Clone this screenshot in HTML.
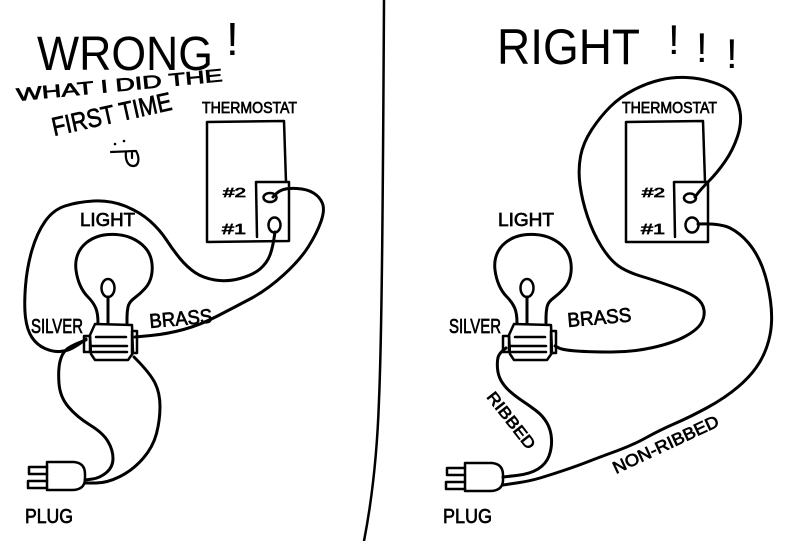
<!DOCTYPE html>
<html><head><meta charset="utf-8">
<style>
html,body{margin:0;padding:0;background:#fff;}
svg{display:block;}
text{font-family:"Liberation Sans",sans-serif;fill:#000;}
.sm{stroke:#000;stroke-width:0.7;}
</style></head><body>
<svg id="d" width="800" height="541" viewBox="0 0 800 541" xmlns="http://www.w3.org/2000/svg">
<rect width="800" height="541" fill="#fff"/>
<g fill="none" stroke="#000" stroke-width="3" stroke-linecap="round" stroke-linejoin="round">
  <!-- divider -->
  <path d="M384,0 C383,180 382,330 379,400 C377,460 371,505 364,541" stroke-width="2.5"/>

  <!-- LEFT thermostat -->
  <path d="M207,122 L284,121 L286,182 L256,182 L257,237 M286,182 L289,182 L289,241 L207,242 L207,122" stroke-width="2.5"/>
  <ellipse cx="270" cy="197.5" rx="6.5" ry="4.5" stroke-width="2.5"/>
  <ellipse cx="274.5" cy="225" rx="6" ry="7.5" stroke-width="2.5"/>

  <!-- RIGHT thermostat -->
  <path d="M626,122 L703,121 L705,182 L674,182 L675,237 M705,182 L708,182 L708,242 L626,242 L626,122" stroke-width="2.5"/>
  <ellipse cx="690" cy="198" rx="6" ry="4.5" stroke-width="2.5"/>
  <ellipse cx="692" cy="225" rx="6.5" ry="7.5" stroke-width="2.5"/>

  <!-- LEFT wires -->
  <polyline class="s" points="275,232 273,247 267,263 253,275 227,282 203,278 187,267 173,250 160,230 140,212 110,200 77,202 53,210 37,233 27,267 24,305 27,330 37,345 53,352 67,351 78,345 86,339"/>
  <polyline class="s" points="273,197 277,192 287,188 307,189 320,197 325,210 317,233 300,260 267,290 233,308 200,325 167,334 135,337"/>
  <polyline class="s" points="86,340 72,345 62,353 58,370 60,397 77,417 103,433 113,450 113,467 100,478 85,480"/>
  <polyline class="s" points="134,357 150,373 160,393 160,420 153,447 133,470 107,483 85,483"/>

  <!-- RIGHT wires -->
  <polyline class="s" points="695,197 700,190 717,173 733,150 742,123 738,100 727,87 700,78 673,77 647,83 620,97 600,117 583,143 578,170 582,200 593,233 610,260 627,272 657,281 690,293 703,303 705,317 697,330 673,343 633,352 590,352 563,350 555,346"/>
  <polyline class="s" points="698,224 720,223 740,233 757,253 768,282 773,320 767,350 752,375 725,398 690,417 660,430 633,445 600,457 577,466 550,475 530,481 503,485"/>
  <polyline class="s" points="506,348 499,353 497,362 498,375 504,386 515,396 530,406 543,416 551,430 552,448 546,464 530,474 503,477"/>

  <!-- bulbs + sockets -->
  <g id="bulb">
    <polyline class="s" points="98,323 98,313 93,302 83,292 77,278 75,262 80,248 92,238 107,234 125,235 140,242 150,253 153,268 150,283 140,294 129,302 127,312 127,323"/>
    <ellipse cx="108" cy="288" rx="6.5" ry="9" stroke-width="2.5"/>
    <path d="M108,297 L108,323"/>
    <path d="M95,324 L132,325 L133,353 L128,360 L95,360 L91,354 L90,335 Z" stroke-width="2.5"/>
    <path d="M96,337 L126,337 M91,346 L127,346 M93,352 L127,352" stroke-width="2.5"/>
    <rect x="84" y="336" width="6" height="16" stroke-width="2.5"/>
    <rect x="132" y="331" width="5" height="22" stroke-width="2.5"/>
  </g>
  <g transform="translate(419,0)">
    <polyline class="s" points="98,323 98,313 93,302 83,292 77,278 75,262 80,248 92,238 107,234 125,235 140,242 150,253 153,268 150,283 140,294 129,302 127,312 127,323"/>
    <ellipse cx="108" cy="288" rx="6.5" ry="9" stroke-width="2.5"/>
    <path d="M108,297 L108,323"/>
    <path d="M95,324 L132,325 L133,353 L128,360 L95,360 L91,354 L90,335 Z" stroke-width="2.5"/>
    <path d="M96,337 L126,337 M91,346 L127,346 M93,352 L127,352" stroke-width="2.5"/>
    <rect x="84" y="336" width="6" height="16" stroke-width="2.5"/>
    <rect x="132" y="331" width="5" height="22" stroke-width="2.5"/>
  </g>

  <!-- plugs -->
  <g stroke-width="2.5">
    <path d="M47,462 L74,462 Q85,463 85,474 L85,480 Q84,490 72,490 L47,490 Z"/>
    <path d="M47,467 L29,467 L29,474 L47,474 M47,481 L28,481 L28,488 L47,488"/>
  </g>
  <g stroke-width="2.5" transform="translate(418,1)">
    <path d="M47,462 L74,462 Q85,463 85,474 L85,480 Q84,490 72,490 L47,490 Z"/>
    <path d="M47,467 L29,467 L29,474 L47,474 M47,481 L28,481 L28,488 L47,488"/>
  </g>

  <!-- smiley -->
  <g stroke-width="2.2">
    <path d="M111,152 L135,151"/>
    <path d="M126,152 C125,160 128,166 133,166 C139,166 140,158 136,151"/>
    <path d="M132,153 L132,158"/>
  </g>
  <circle cx="115" cy="144" r="1.3" fill="#000" stroke="none"/>
  <circle cx="124" cy="141" r="1.3" fill="#000" stroke="none"/>
</g>

<!-- LEFT text -->
<text x="37" y="70" font-size="48" textLength="176" lengthAdjust="spacingAndGlyphs">WRONG</text>
<text x="226" y="55" font-size="46">!</text>
<text class="sm" transform="translate(17,101) rotate(-5.5)" font-size="18" textLength="207" lengthAdjust="spacingAndGlyphs">WHAT I DID THE</text>
<text class="sm" transform="translate(54,136) rotate(-12.5)" font-size="26" textLength="122" lengthAdjust="spacingAndGlyphs">FIRST TIME</text>
<text class="sm" x="202" y="113" font-size="16" textLength="95" lengthAdjust="spacingAndGlyphs">THERMOSTAT</text>
<text class="sm" x="223" y="197" font-size="13" textLength="23" lengthAdjust="spacingAndGlyphs">#2</text>
<text class="sm" x="222" y="234" font-size="15" textLength="24" lengthAdjust="spacingAndGlyphs">#1</text>
<text class="sm" x="80" y="226" font-size="18" textLength="55" lengthAdjust="spacingAndGlyphs">LIGHT</text>
<text class="sm" x="31" y="333" font-size="20" textLength="52" lengthAdjust="spacingAndGlyphs">SILVER</text>
<text class="sm" transform="translate(150,328) rotate(-5)" font-size="20" textLength="63" lengthAdjust="spacingAndGlyphs">BRASS</text>
<text class="sm" x="25" y="523" font-size="20" textLength="48" lengthAdjust="spacingAndGlyphs">PLUG</text>

<!-- RIGHT text -->
<text x="497" y="64" font-size="50" textLength="143" lengthAdjust="spacingAndGlyphs">RIGHT</text>
<text x="668" y="54" font-size="42">!</text>
<text x="696" y="62" font-size="42">!</text>
<text x="726" y="68" font-size="42">!</text>
<text class="sm" x="622" y="113" font-size="16" textLength="95" lengthAdjust="spacingAndGlyphs">THERMOSTAT</text>
<text class="sm" x="642" y="197" font-size="13" textLength="23" lengthAdjust="spacingAndGlyphs">#2</text>
<text class="sm" x="641" y="234" font-size="15" textLength="24" lengthAdjust="spacingAndGlyphs">#1</text>
<text class="sm" x="498" y="226" font-size="18" textLength="56" lengthAdjust="spacingAndGlyphs">LIGHT</text>
<text class="sm" x="449" y="333" font-size="20" textLength="52" lengthAdjust="spacingAndGlyphs">SILVER</text>
<text class="sm" transform="translate(568,327) rotate(-5)" font-size="20" textLength="64" lengthAdjust="spacingAndGlyphs">BRASS</text>
<text class="sm" x="443" y="523" font-size="20" textLength="49" lengthAdjust="spacingAndGlyphs">PLUG</text>
<text class="sm" transform="translate(486,397) rotate(52)" font-size="16" textLength="68" lengthAdjust="spacingAndGlyphs">RIBBED</text>
<text class="sm" transform="translate(616,474) rotate(-25)" font-size="17" textLength="115" lengthAdjust="spacingAndGlyphs">NON-RIBBED</text>
</svg>
<script>
(function(){
  var NS="http://www.w3.org/2000/svg";
  var pls=document.querySelectorAll('polyline.s');
  for(var k=0;k<pls.length;k++){
    var pl=pls[k];
    var pts=pl.getAttribute('points').trim().split(/\s+/).map(function(p){return p.split(',').map(Number);});
    if(pts.length<3) continue;
    var d='M'+pts[0][0]+','+pts[0][1];
    for(var i=1;i<pts.length-1;i++){
      var mx=(pts[i][0]+pts[i+1][0])/2, my=(pts[i][1]+pts[i+1][1])/2;
      d+=' Q'+pts[i][0]+','+pts[i][1]+' '+mx+','+my;
    }
    var l=pts[pts.length-1];
    d+=' L'+l[0]+','+l[1];
    var p=document.createElementNS(NS,'path');
    p.setAttribute('d',d);
    pl.parentNode.replaceChild(p,pl);
  }
})();
</script>
</body></html>
